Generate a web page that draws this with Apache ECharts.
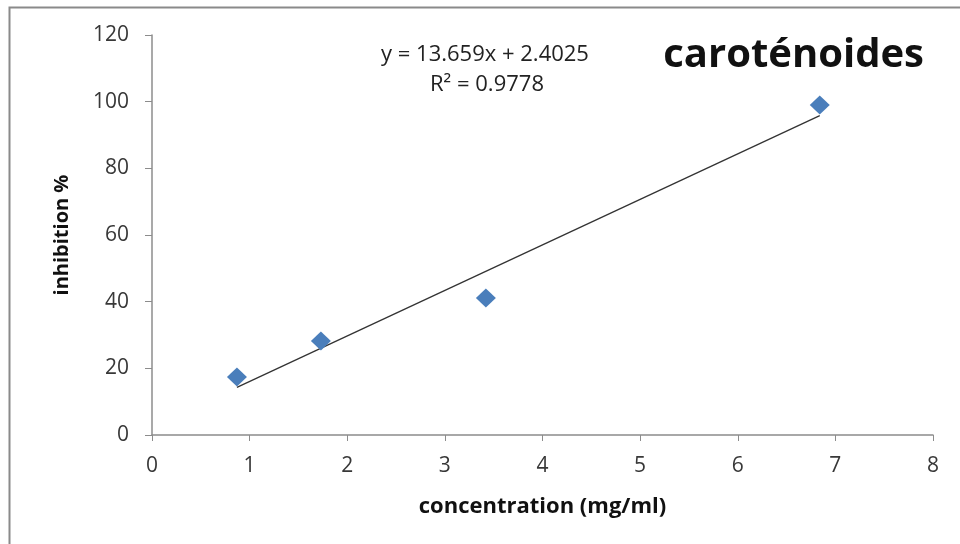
<!DOCTYPE html>
<html>
<head>
<meta charset="utf-8">
<script src="https://cdn.jsdelivr.net/npm/echarts@6/dist/echarts.min.js"></script>
<style>html,body{margin:0;padding:0;background:#fff;}#c{width:960px;height:544px;}</style>
</head>
<body>
<div id="c"></div>
<script>
const concentration = [0.87, 1.73, 3.42, 6.84];
const inhibition = [17.4, 28.2, 41.1, 99.0];
const slope = 13.659;
const intercept = 2.4025;
const r2 = 0.9778;
const xTicks = [0, 1, 2, 3, 4, 5, 6, 7, 8];
const yTicks = [0, 20, 40, 60, 80, 100, 120];

const points = concentration.map((x, i) => [x, inhibition[i]]);
const xMin = Math.min(...concentration), xMax = Math.max(...concentration);
const trend = [[xMin, slope * xMin + intercept], [xMax, slope * xMax + intercept]];

const FONT = '"Open Sans", "Liberation Sans", sans-serif';
const chart = echarts.init(document.getElementById('c'));
chart.setOption({
  backgroundColor: '#ffffff',
  animation: false,
  title: {
    text: 'caroténoides',
    right: 31, top: 31,
    textStyle: { fontFamily: FONT, fontWeight: 'bold', fontSize: 40, color: '#111' }
  },
  graphic: [
    { type: 'rect', shape: { x: 9.5, y: 7.5, width: 1000, height: 1000 }, style: { fill: 'none', stroke: '#8a8a8a', lineWidth: 2 } },
    { type: 'text', x: 485, y: 55, style: { text: 'y = 13.659x + 2.4025', font: '22px ' + FONT, fill: '#222', align: 'center', verticalAlign: 'middle' } },
    { type: 'text', x: 487, y: 85, style: { text: 'R² = ' + r2, font: '22px ' + FONT, fill: '#222', align: 'center', verticalAlign: 'middle' } }
  ],
  grid: { left: 152, right: 27, top: 35, bottom: 109 },
  xAxis: {
    type: 'value', min: xTicks[0], max: xTicks[xTicks.length - 1], interval: 1,
    name: 'concentration (mg/ml)', nameLocation: 'middle', nameGap: 61,
    nameTextStyle: { fontFamily: FONT, fontWeight: 'bold', fontSize: 22, color: '#111' },
    axisLine: { show: true, onZero: false, lineStyle: { color: '#8c8c8c', width: 1.5 } },
    axisTick: { show: true, length: 6, lineStyle: { color: '#8c8c8c' } },
    axisLabel: { fontFamily: FONT, fontSize: 21, color: '#383838', margin: 21 },
    splitLine: { show: false }
  },
  yAxis: {
    type: 'value', min: yTicks[0], max: yTicks[yTicks.length - 1], interval: 20,
    name: 'inhibition %', nameLocation: 'middle', nameGap: 80, nameRotate: 90,
    nameTextStyle: { fontFamily: FONT, fontWeight: 'bold', fontSize: 20, color: '#111' },
    axisLine: { show: true, lineStyle: { color: '#8c8c8c', width: 1.5 } },
    axisTick: { show: true, length: 7, lineStyle: { color: '#8c8c8c' } },
    axisLabel: { fontFamily: FONT, fontSize: 21, color: '#383838', margin: 23 },
    splitLine: { show: false }
  },
  series: [
    {
      type: 'line', data: trend, symbol: 'none', silent: true,
      lineStyle: { color: '#333', width: 1.3 }, z: 2
    },
    {
      type: 'scatter', data: points, symbol: 'diamond', symbolSize: [20, 19],
      itemStyle: { color: '#4a7ebb', opacity: 1 }, z: 3
    }
  ]
});
</script>
</body>
</html>
